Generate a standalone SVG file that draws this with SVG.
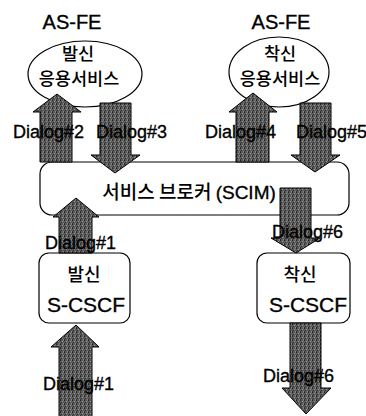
<svg xmlns="http://www.w3.org/2000/svg" width="366" height="416" viewBox="0 0 366 416">
<style>
.shape{fill:#fff;stroke:#000;stroke-width:1.2}
.arrow{fill:url(#tex);stroke:#000;stroke-width:1}
.lat{font-family:"Liberation Sans",Arial,"Noto Sans CJK KR",sans-serif;fill:#000;stroke:#000;stroke-width:0.35}
.kr{font-family:"Noto Sans CJK KR",sans-serif;fill:#000;font-weight:500}
.dl{font-size:18px}
</style>
<defs>
<pattern id="tex" width="4" height="4" patternUnits="userSpaceOnUse">
<rect width="4" height="4" fill="#5a5a5a"/>
<rect x="0" y="0" width="1" height="1" fill="#222"/>
<rect x="2" y="1" width="1" height="1" fill="#999"/>
<rect x="1" y="2" width="1" height="1" fill="#333"/>
<rect x="3" y="3" width="1" height="1" fill="#888"/>
<rect x="3" y="0" width="1" height="1" fill="#777"/>
<rect x="0" y="3" width="1" height="1" fill="#333"/>
</pattern>
</defs>

<g id="asfe-orig">
<text class="lat" x="72" y="29" font-size="20" text-anchor="middle">AS-FE</text>
<ellipse class="shape" cx="85" cy="74" rx="57" ry="33"/>
<text class="kr" x="78" y="60" font-size="17.5" text-anchor="middle">발신</text>
<text class="kr" x="79" y="85" font-size="17.5" text-anchor="middle">응용서비스</text>
</g>

<g id="asfe-term">
<text class="lat" x="281" y="29" font-size="20" text-anchor="middle">AS-FE</text>
<ellipse class="shape" cx="279" cy="72" rx="50" ry="35"/>
<text class="kr" x="280" y="60" font-size="17.5" text-anchor="middle">착신</text>
<text class="kr" x="280" y="85" font-size="17.5" text-anchor="middle">응용서비스</text>
</g>

<g id="scim">
<rect class="shape" x="40" y="162" width="309" height="53" rx="12"/>
<text x="189" y="199" font-size="19" text-anchor="middle"><tspan class="kr">서비스 브로커 </tspan><tspan class="lat">(SCIM)</tspan></text>
</g>

<g id="scscf-orig">
<rect class="shape" x="39" y="253" width="91" height="70" rx="10"/>
<text class="kr" x="84" y="281" font-size="18" text-anchor="middle">발신</text>
<text class="lat" x="86" y="312" font-size="21" text-anchor="middle">S-CSCF</text>
</g>

<g id="scscf-term">
<rect class="shape" x="257" y="253" width="93" height="70" rx="10"/>
<text class="kr" x="300" y="281" font-size="18" text-anchor="middle">착신</text>
<text class="lat" x="308" y="312" font-size="21" text-anchor="middle">S-CSCF</text>
</g>

<g id="connectors">
<path class="arrow" d="M57,94 L81,112 L72,112 L72,162 L40,162 L40,112 L33,112 Z"/>
<path class="arrow" d="M100,103 L131,103 L131,155 L140,155 L115,173 L91,155 L100,155 Z"/>
<path class="arrow" d="M253,93 L277,112 L269,112 L269,162 L236,162 L236,112 L229,112 Z"/>
<path class="arrow" d="M300,103 L331,103 L331,155 L340,155 L315,172 L291,155 L300,155 Z"/>
<path class="arrow" d="M76,198 L99,217 L92,217 L92,253 L59,253 L59,217 L53,217 Z"/>
<path class="arrow" d="M76,325 L99,347 L92,347 L92,418 L59,418 L59,347 L51,347 Z"/>
<path class="arrow" d="M280,188 L311,188 L311,238 L320,238 L296,253 L271,238 L280,238 Z"/>
<path class="arrow" d="M290,323 L321,323 L321,388 L331,388 L306,414 L282,388 L290,388 Z"/>
<text class="lat dl" x="13" y="138">Dialog#2</text>
<text class="lat dl" x="96" y="138">Dialog#3</text>
<text class="lat dl" x="205" y="138">Dialog#4</text>
<text class="lat dl" x="296" y="138">Dialog#5</text>
<text class="lat dl" x="45" y="249">Dialog#1</text>
<text class="lat dl" x="272" y="238">Dialog#6</text>
<text class="lat dl" x="43" y="390">Dialog#1</text>
<text class="lat dl" x="263" y="382">Dialog#6</text>
</g>
</svg>
